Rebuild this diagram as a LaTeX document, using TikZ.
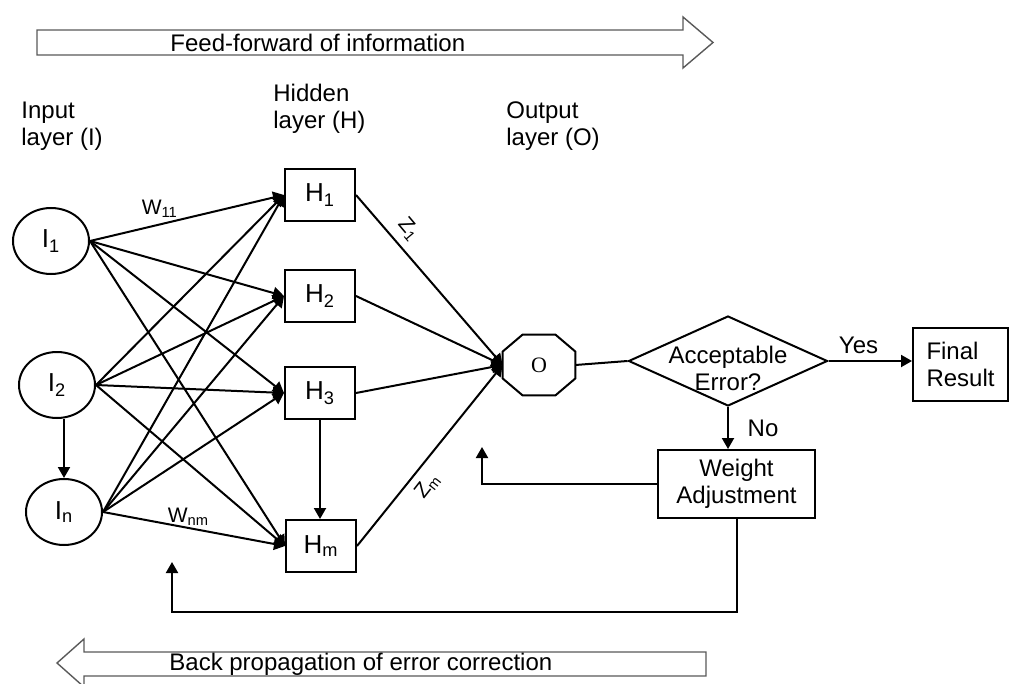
\documentclass[tikz,border=0pt]{standalone}
\usepackage{fontspec}
\setmainfont{Liberation Sans}
\newfontfamily\octfont{Liberation Serif}
\usetikzlibrary{arrows.meta,shapes.geometric,positioning}

\begin{document}
\begin{tikzpicture}[x=0.5pt,y=-0.5pt,
    every node/.style={font=\fontsize{12}{13.5}\selectfont},
    inp/.style={draw,ellipse,line width=1pt,minimum width=38pt,minimum height=33pt,inner sep=0pt,font=\fontsize{13}{15}\selectfont},
    hid/.style={draw,rectangle,line width=1pt,minimum width=35pt,minimum height=26pt,inner sep=0pt,font=\fontsize{13}{15}\selectfont},
    outp/.style={rectangle,minimum width=36pt,minimum height=30pt,inner sep=0pt,font=\octfont\fontsize{11}{13}\selectfont},
    decision/.style={draw,diamond,line width=1pt,minimum width=99.5pt,minimum height=45pt,inner sep=0pt},
    box/.style={draw,rectangle,line width=1pt,inner sep=0pt},
    layer/.style={align=left,anchor=west,inner sep=0pt},
    wlab/.style={font=\fontsize{10.5}{12}\selectfont},
    wire/.style={line width=1pt,-{Triangle[length=5.5pt,width=6pt]}},
    link/.style={line width=1pt},
    bigarrow/.style={draw=gray!70!black,line width=0.7pt,fill=white}]
    \useasboundingbox (0,0) rectangle (1011,684);

    \draw[bigarrow] (37,30) -- (683,30) -- (683,17) -- (713,42.5) -- (683,68) -- (683,55) -- (37,55) -- cycle;
    \node[anchor=west,inner sep=0pt] (ffw) at (170,43) {Feed-forward of information};
    \draw[bigarrow] (706,652) -- (84,652) -- (84,639) -- (57,663) -- (84,687) -- (84,676) -- (706,676) -- cycle;
    \node[anchor=west,inner sep=0pt] (bprop) at (169,664) {Back propagation of error correction};

    \node[layer] (inlab) at (21,126) {Input\\layer (I)};
    \node[layer] (hidlab) at (273,109) {Hidden\\layer (H)};
    \node[layer] (outlab) at (506,126) {Output\\layer (O)};

    \node[inp] (I1) at (51,241) {I\textsubscript{1}};
    \node[inp] (I2) at (57,385) {I\textsubscript{2}};
    \node[inp] (In) at (64,512) {I\textsubscript{n}};

    \node[hid] (H1) at (320,195) {H\textsubscript{1}};
    \node[hid] (H2) at (320,296) {H\textsubscript{2}};
    \node[hid] (H3) at (320,393) {H\textsubscript{3}};
    \node[hid] (Hm) at (321,546) {H\textsubscript{m}};

    \node[outp] (O) at (539,365) {O};
    \draw[link] ([xshift=10pt]O.north west) -- ([xshift=-10pt]O.north east) -- ([yshift=-8.5pt]O.north east)
        -- ([yshift=8.5pt]O.south east) -- ([xshift=-10pt]O.south east) -- ([xshift=10pt]O.south west)
        -- ([yshift=8.5pt]O.south west) -- ([yshift=-8.5pt]O.north west) -- cycle;
    \node[decision] (err) at (728,361) {};
    \node[align=center] (errtxt) at (728,368) {Acceptable\\Error?};
    \node[box,align=left,minimum width=47.5pt,minimum height=36.5pt] (res) at (960.5,364.5) {Final\\Result};
    \node[box,align=center,minimum width=78.5pt,minimum height=34pt] (adj) at (736.5,484) {Weight\\Adjustment};
    \coordinate (fb1) at (482,447);
    \coordinate (turn) at (172,612);
    \coordinate (fb2) at (172,562);

    \foreach \i in {I1,I2,In}
        \foreach \h in {H1,H2,H3,Hm}
            \draw[wire] (\i.east) -- (\h.west);
    \path (I1.east) -- (H1.west) node[wlab,above,pos=.36] {W\textsubscript{11}};
    \path (In.east) -- (Hm.west) node[wlab,above,pos=.47,inner sep=1pt] {W\textsubscript{nm}};
    \draw[wire] (I2.south -| In.north) -- (In.north);
    \draw[wire] (H3.south) -- (H3.south |- Hm.north);

    \foreach \h in {H1,H2,H3,Hm}
        \draw[wire] (\h.east) -- (O.west);
    \path (H1.east) -- (O.west) node[wlab,rotate=-50,anchor=south,pos=.27,inner sep=4pt] {Z\textsubscript{1}};
    \path (Hm.east) -- (O.west) node[wlab,rotate=52,anchor=north,pos=.39,inner sep=4pt] {Z\textsubscript{m}};

    \draw[link] (O.east) -- (err.west);
    \draw[wire] (err.east) -- node[above,pos=.36] {Yes} (err.east -| res.west);
    \draw[wire] (err.south) -- node[right=6pt] {No} (err.south |- adj.north);
    \draw[wire] (adj.west) -| (fb1);
    \draw[wire] (adj.south) |- (turn) -- (fb2);
\end{tikzpicture}
\end{document}
